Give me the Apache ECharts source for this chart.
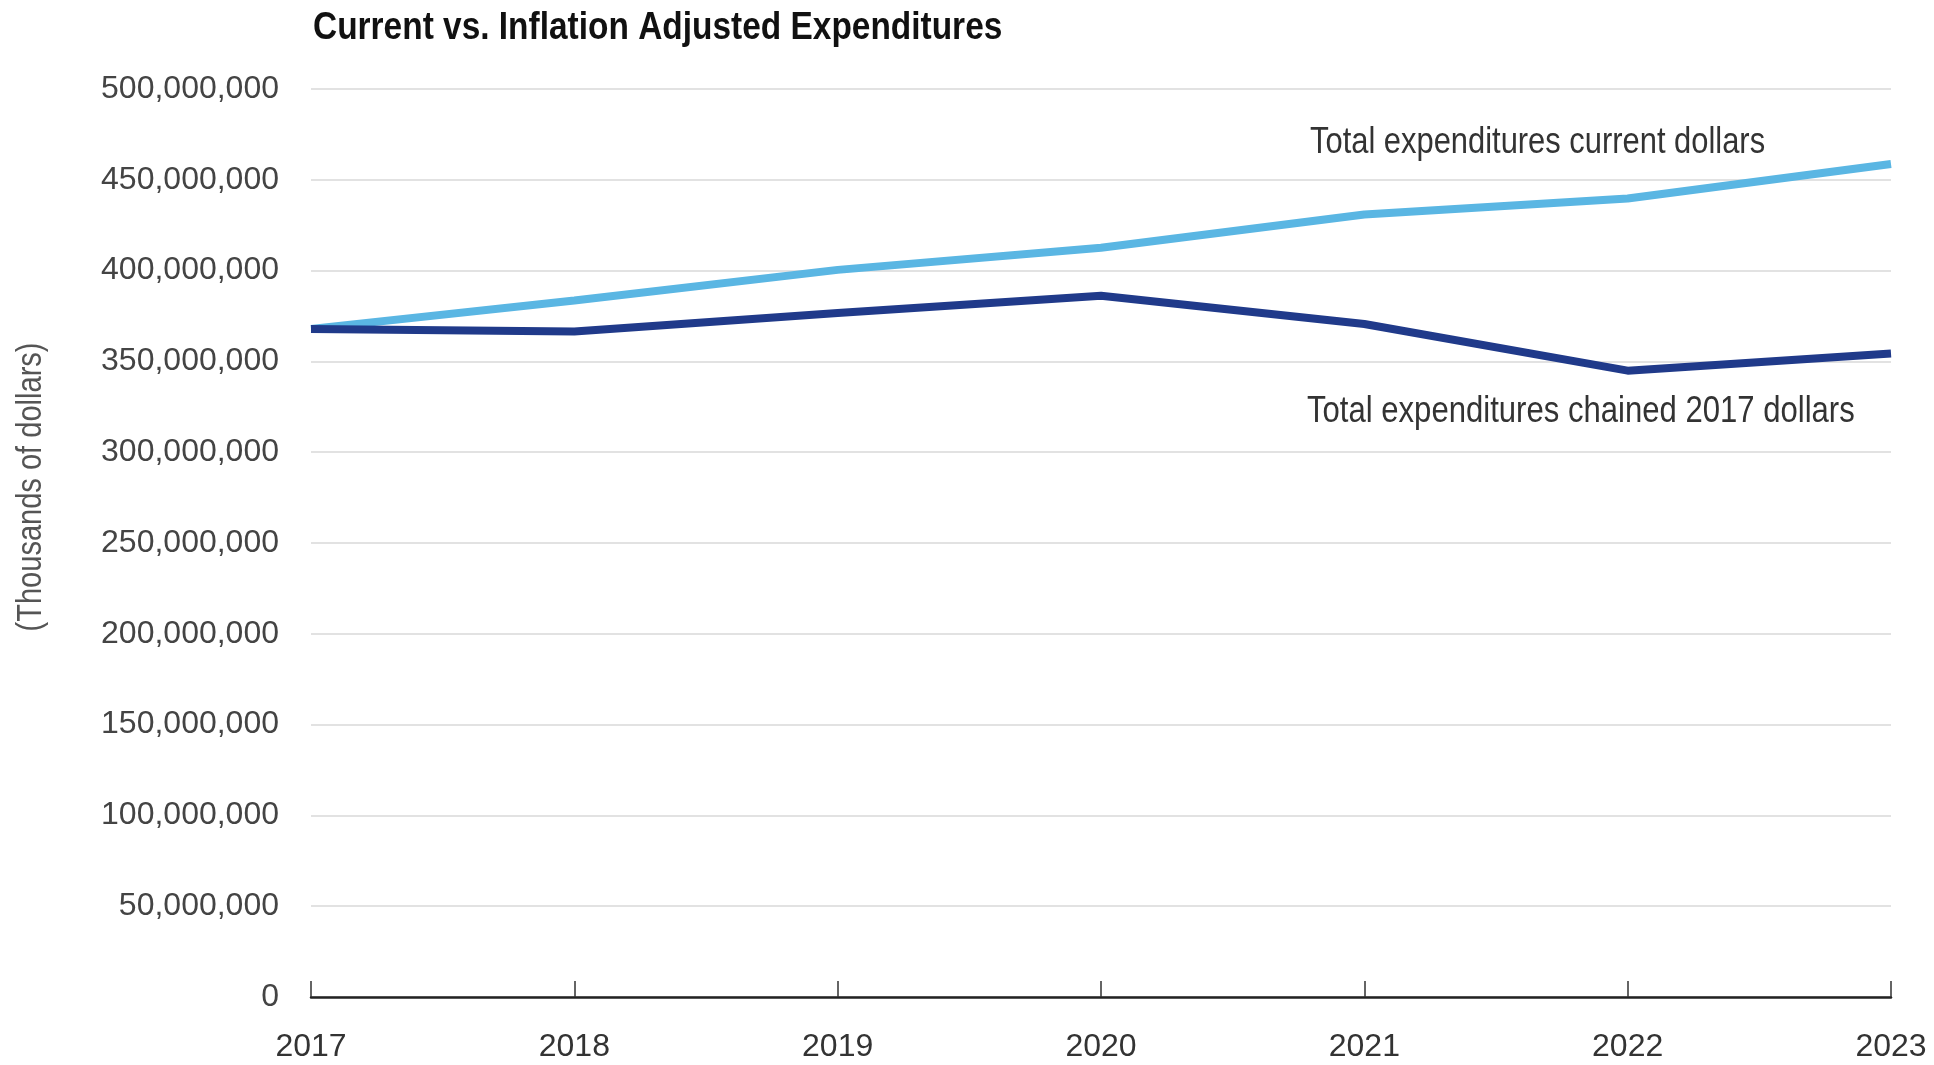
<!DOCTYPE html>
<html><head><meta charset="utf-8">
<script src="https://cdn.jsdelivr.net/npm/echarts@6/dist/echarts.min.js"></script>
<style>html,body{margin:0;padding:0;background:#fff}#c{width:1934px;height:1065px}</style>
</head><body><div id="c"></div>
<script>
const years = ['2017','2018','2019','2020','2021','2022','2023'];
const currentDollars = [367900000, 383500000, 400400000, 412600000, 430900000, 439700000, 458700000];
const chainedDollars = [367900000, 366500000, 376700000, 386200000, 370600000, 344900000, 354300000];
const titleText = 'Current vs. Inflation Adjusted Expenditures';
const yAxisName = '(Thousands of dollars)';
const seriesNames = ['Total expenditures current dollars', 'Total expenditures chained 2017 dollars'];

const FONT = '"Liberation Sans", Arial, sans-serif';
const chart = echarts.init(document.getElementById('c'));
chart.setOption({
  animation: false,
  backgroundColor: '#fff',
  grid: {left: 311, right: 43, top: 89, bottom: 68},
  xAxis: {
    type: 'category', data: years, boundaryGap: false,
    axisLine: {lineStyle: {color: '#222', width: 2.5}},
    axisTick: {inside: true, length: 16, lineStyle: {color: '#333', width: 1.5}},
    axisLabel: {fontFamily: FONT, fontSize: 32, color: '#333', margin: 34}
  },
  yAxis: {
    type: 'value', min: 0, max: 500000000, interval: 50000000,
    axisLine: {show: false}, axisTick: {show: false},
    splitLine: {lineStyle: {color: '#e2e2e2', width: 2}},
    axisLabel: {fontFamily: FONT, fontSize: 32, color: '#444', margin: 32,
      formatter: v => v.toLocaleString('en-US')}
  },
  series: [
    {name: seriesNames[0], type: 'line', data: currentDollars, symbol: 'none',
      lineStyle: {color: '#5ab6e3', width: 8}, z: 2},
    {name: seriesNames[1], type: 'line', data: chainedDollars, symbol: 'none',
      lineStyle: {color: '#203a8a', width: 8}, z: 3}
  ],
  graphic: [
    {type: 'text', x: 313, y: 29, scaleX: 0.88,
      style: {text: titleText, fontFamily: FONT, fontWeight: 'bold', fontSize: 38, fill: '#111',
        textAlign: 'left', textVerticalAlign: 'middle'}},
    {type: 'text', x: 31, y: 487, scaleX: 0.83, rotation: Math.PI / 2,
      style: {text: yAxisName, fontFamily: FONT, fontSize: 35, fill: '#555',
        textAlign: 'center', textVerticalAlign: 'middle'}},
    {type: 'text', x: 1310, y: 143, scaleX: 0.835,
      style: {text: seriesNames[0], fontFamily: FONT, fontSize: 37, fill: '#333',
        textAlign: 'left', textVerticalAlign: 'middle'}},
    {type: 'text', x: 1307, y: 412, scaleX: 0.84,
      style: {text: seriesNames[1], fontFamily: FONT, fontSize: 37, fill: '#333',
        textAlign: 'left', textVerticalAlign: 'middle'}}
  ]
});
</script></body></html>
